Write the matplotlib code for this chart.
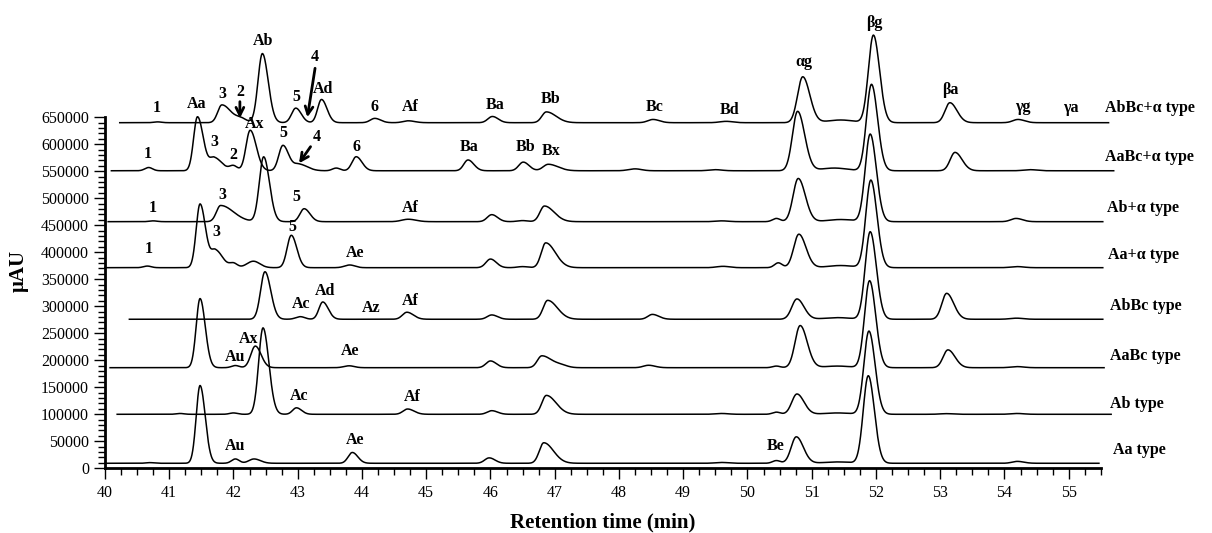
import numpy as np
import matplotlib
matplotlib.use("Agg")
import matplotlib.pyplot as plt
from matplotlib.ticker import MultipleLocator, FixedLocator

plt.rcParams['font.family'] = ['Liberation Serif', 'DejaVu Serif']

# ---------------- data (retention time in min, signal in µAU) ----------------
trace_names = ["AbBc+\u03b1 type", "AaBc+\u03b1 type", "Ab+\u03b1 type", "Aa+\u03b1 type",
               "AbBc type", "AaBc type", "Ab type", "Aa type"]
trace_base = [640000, 551000, 456700, 371500, 276000, 186300, 100000, 9300]
trace_start = [40.23, 40.10, 40.05, 40.00, 40.38, 40.08, 40.19, 40.00]
trace_end = [55.62, 55.70, 55.53, 55.53, 55.53, 55.55, 55.66, 55.47]

# AbBc+alpha
t1_rt = [40.82, 41.82, 42.12, 42.45, 42.97, 43.37, 44.20, 44.72, 46.03, 46.87, 48.53, 49.67, 50.86, 51.45, 51.96, 53.15, 54.21]
t1_h = [1500, 33000, 7000, 128000, 27000, 43000, 8000, 3500, 11500, 20000, 6000, 2500, 85000, 5000, 162000, 37000, 6000]
t1_sl = [.06, .065, .08, .068, .065, .06, .07, .08, .07, .07, .08, .10, .08, .20, .078, .075, .08]
t1_sr = [.06, .14, .08, .090, .085, .085, .09, .10, .09, .15, .10, .10, .11, .20, .095, .11, .10]
# AaBc+alpha
t2_rt = [40.68, 41.44, 41.70, 42.00, 42.26, 42.77, 43.02, 43.60, 43.91, 45.65, 46.51, 46.90, 48.25, 49.50, 50.78, 51.35, 51.93, 53.23, 54.40]
t2_h = [6000, 100000, 24000, 9000, 75000, 47000, 12000, 5000, 26000, 20000, 16000, 12000, 3500, 2000, 110000, 5000, 160000, 34000, 2000]
t2_sl = [.06, .06, .07, .06, .065, .065, .08, .06, .065, .065, .07, .08, .10, .10, .08, .20, .078, .075, .10]
t2_sr = [.06, .09, .12, .06, .095, .09, .13, .06, .09, .09, .09, .15, .10, .10, .11, .20, .095, .11, .10]
# Ab+alpha
t3_rt = [40.75, 41.80, 42.47, 43.10, 44.72, 46.02, 46.50, 46.84, 49.60, 50.45, 50.79, 51.45, 51.91, 54.18]
t3_h = [1500, 30000, 120000, 24000, 4500, 13000, 2000, 29000, 1500, 6000, 80000, 4000, 162000, 6000]
t3_sl = [.06, .065, .068, .065, .10, .07, .08, .07, .10, .06, .08, .20, .078, .08]
t3_sr = [.06, .20, .090, .09, .12, .09, .08, .15, .10, .06, .11, .20, .095, .10]
# Aa+alpha
t4_rt = [40.66, 41.48, 41.72, 42.00, 42.31, 42.90, 43.81, 46.00, 46.50, 46.86, 49.62, 50.48, 50.80, 51.45, 51.92, 54.20]
t4_h = [3000, 118000, 32000, 8000, 12000, 60000, 5000, 16000, 2000, 46000, 2500, 9000, 62000, 4000, 162000, 2000]
t4_sl = [.06, .06, .07, .06, .10, .065, .08, .07, .08, .07, .10, .06, .08, .20, .078, .10]
t4_sr = [.06, .085, .11, .06, .10, .085, .08, .09, .08, .15, .10, .06, .11, .20, .095, .10]
# AbBc
t5_rt = [42.49, 43.04, 43.39, 44.70, 46.02, 46.89, 48.52, 50.77, 51.40, 51.91, 53.10, 54.19]
t5_h = [88000, 4800, 32000, 13000, 8000, 35000, 9000, 37600, 3000, 162000, 48000, 2000]
t5_sl = [.068, .07, .06, .07, .07, .07, .07, .08, .20, .078, .075, .10]
t5_sr = [.090, .07, .085, .10, .09, .15, .10, .11, .20, .095, .11, .10]
# AaBc
t6_rt = [41.48, 42.03, 42.34, 43.80, 46.00, 46.80, 47.10, 48.46, 50.45, 50.82, 51.40, 51.90, 53.12, 54.20]
t6_h = [128000, 4000, 40000, 3500, 12500, 22000, 4000, 4500, 3000, 78000, 3000, 161000, 33000, 2000]
t6_sl = [.06, .06, .07, .08, .07, .07, .10, .08, .06, .08, .20, .078, .075, .10]
t6_sr = [.08, .06, .09, .08, .09, .15, .10, .10, .06, .11, .20, .095, .11, .10]
# Ab
t7_rt = [41.17, 42.00, 42.46, 42.98, 44.71, 46.02, 46.87, 49.60, 50.45, 50.77, 51.40, 51.89, 53.10, 54.20]
t7_h = [1500, 2500, 160000, 12000, 9800, 6700, 35000, 1500, 4000, 37600, 2500, 154000, 1200, 1500]
t7_sl = [.06, .06, .068, .06, .07, .07, .07, .10, .06, .08, .20, .078, .10, .10]
t7_sr = [.06, .06, .090, .08, .10, .09, .15, .10, .06, .11, .20, .095, .10, .10]
# Aa
t8_rt = [40.70, 41.48, 42.03, 42.32, 43.85, 45.98, 46.83, 49.60, 50.45, 50.76, 51.40, 51.88, 54.20]
t8_h = [1200, 144000, 8000, 8000, 20000, 10000, 38000, 1500, 5000, 49000, 2500, 162000, 3500]
t8_sl = [.06, .06, .06, .08, .065, .07, .07, .10, .06, .08, .20, .078, .08]
t8_sr = [.06, .08, .06, .10, .085, .09, .15, .10, .06, .11, .20, .095, .10]

trace_rt = [t1_rt, t2_rt, t3_rt, t4_rt, t5_rt, t6_rt, t7_rt, t8_rt]
trace_h = [t1_h, t2_h, t3_h, t4_h, t5_h, t6_h, t7_h, t8_h]
trace_sl = [t1_sl, t2_sl, t3_sl, t4_sl, t5_sl, t6_sl, t7_sl, t8_sl]
trace_sr = [t1_sr, t2_sr, t3_sr, t4_sr, t5_sr, t6_sr, t7_sr, t8_sr]

# peak labels (text, rt, signal)
t1_labels = [("1", 40.81, 667000), ("Aa", 41.43, 674700), ("3", 41.82, 693200), ("2", 42.10, 696900),
             ("Ab", 42.46, 791400), ("5", 42.98, 688200), ("4", 43.27, 761100), ("Ad", 43.39, 701900),
             ("6", 44.19, 669600), ("Af", 44.75, 669100), ("Ba", 46.07, 672800), ("Bb", 46.94, 683300),
             ("Bc", 48.56, 668500), ("Bd", 49.72, 663500), ("\u03b1g", 50.88, 751900),
             ("\u03b2g", 51.97, 824100), ("\u03b2a", 53.15, 700600), ("\u03b3g", 54.28, 668500),
             ("\u03b3a", 55.03, 666700)]
t2_labels = [("1", 40.66, 581500), ("3", 41.70, 604800), ("2", 42.00, 580200), ("Ax", 42.33, 637600),
             ("5", 42.77, 620400), ("4", 43.29, 614100), ("6", 43.91, 595600), ("Ba", 45.67, 595600),
             ("Bb", 46.54, 595600), ("Bx", 46.95, 588200)]
t3_labels = [("1", 40.75, 481500), ("3", 41.82, 506100), ("5", 42.98, 501900), ("Af", 44.75, 481500)]
t4_labels = [("1", 40.68, 405600), ("3", 41.74, 438200), ("5", 42.91, 447400), ("Ae", 43.89, 399300)]
t5_labels = [("Ac", 43.06, 303700), ("Ad", 43.42, 328300), ("Az", 44.15, 296300), ("Af", 44.75, 310400)]
t6_labels = [("Ax", 42.23, 239400), ("Au", 42.02, 205600), ("Ae", 43.81, 217800)]
t7_labels = [("Ac", 43.02, 133900), ("Af", 44.79, 132600)]
t8_labels = [("Au", 42.02, 41900), ("Ae", 43.89, 52400), ("Be", 50.43, 41900)]
peak_labels = t1_labels + t2_labels + t3_labels + t4_labels + t5_labels + t6_labels + t7_labels + t8_labels

type_label_x = [55.56, 55.56, 55.59, 55.61, 55.64, 55.65, 55.65, 55.69]
type_label_y = [666700, 577100, 481500, 395000, 301100, 208500, 119100, 33900]

# arrows (from -> to)
arrow_from = [(42.10, 678900), (43.27, 740800), (43.20, 595600)]
arrow_to = [(42.10, 648200), (43.15, 650000), (43.02, 564800)]

# ---------------- figure ----------------
fig = plt.figure(figsize=(12.12, 5.33), dpi=100)
ax = fig.add_axes([0.0866, 0.1214, 0.8217, 0.8786])


def asym_gauss(x, c, h, sl, sr):
    s = np.where(x < c, sl, sr)
    return h * np.exp(-0.5 * ((x - c) / s) ** 2)


for i in range(len(trace_names)):
    x = np.linspace(trace_start[i], trace_end[i], 4000)
    y = np.full_like(x, float(trace_base[i]))
    for c, h, sl, sr in zip(trace_rt[i], trace_h[i], trace_sl[i], trace_sr[i]):
        y += asym_gauss(x, c, h, sl, sr)
    ax.plot(x, y, color='black', lw=1.1, clip_on=False, solid_joinstyle='round')
    ax.text(type_label_x[i], type_label_y[i], trace_names[i], ha='left', va='center',
            fontsize=11.5, fontweight='bold', clip_on=False)

for txt, xx, yy in peak_labels:
    ax.text(xx, yy, txt, ha='center', va='center', fontsize=11.5, fontweight='bold')

for (x0, y0), (x1, y1) in zip(arrow_from, arrow_to):
    ax.annotate("", xy=(x1, y1), xytext=(x0, y0),
                arrowprops=dict(arrowstyle='->', lw=2.0, color='black', mutation_scale=14,
                                shrinkA=0, shrinkB=0))

ax.set_xlim(40, 55.5)
ax.set_ylim(0, 867200)
for s in ['top', 'right']:
    ax.spines[s].set_visible(False)
ax.spines['left'].set_bounds(0, 650000)
ax.spines['left'].set_linewidth(2.0)
ax.spines['bottom'].set_linewidth(2.0)
ax.yaxis.set_major_locator(FixedLocator(np.arange(0, 650001, 50000)))
ax.yaxis.set_minor_locator(FixedLocator(np.arange(0, 650001, 10000)))
ax.set_xticks(np.arange(40, 56, 1))
ax.xaxis.set_minor_locator(MultipleLocator(0.25))
ax.tick_params(axis='both', which='major', direction='out', length=8, width=1.0, labelsize=11.5)
ax.tick_params(axis='both', which='minor', direction='out', length=5, width=1.0)
ax.tick_params(axis='x', which='major', pad=4)

ax.set_xlabel("Retention time (min)", fontsize=15, fontweight='bold', labelpad=8)
ax.set_ylabel("\u03bcAU", fontsize=15, fontweight='bold')
ax.yaxis.set_label_coords(-0.0763, 0.421)

fig.savefig("out.png", dpi=100)
